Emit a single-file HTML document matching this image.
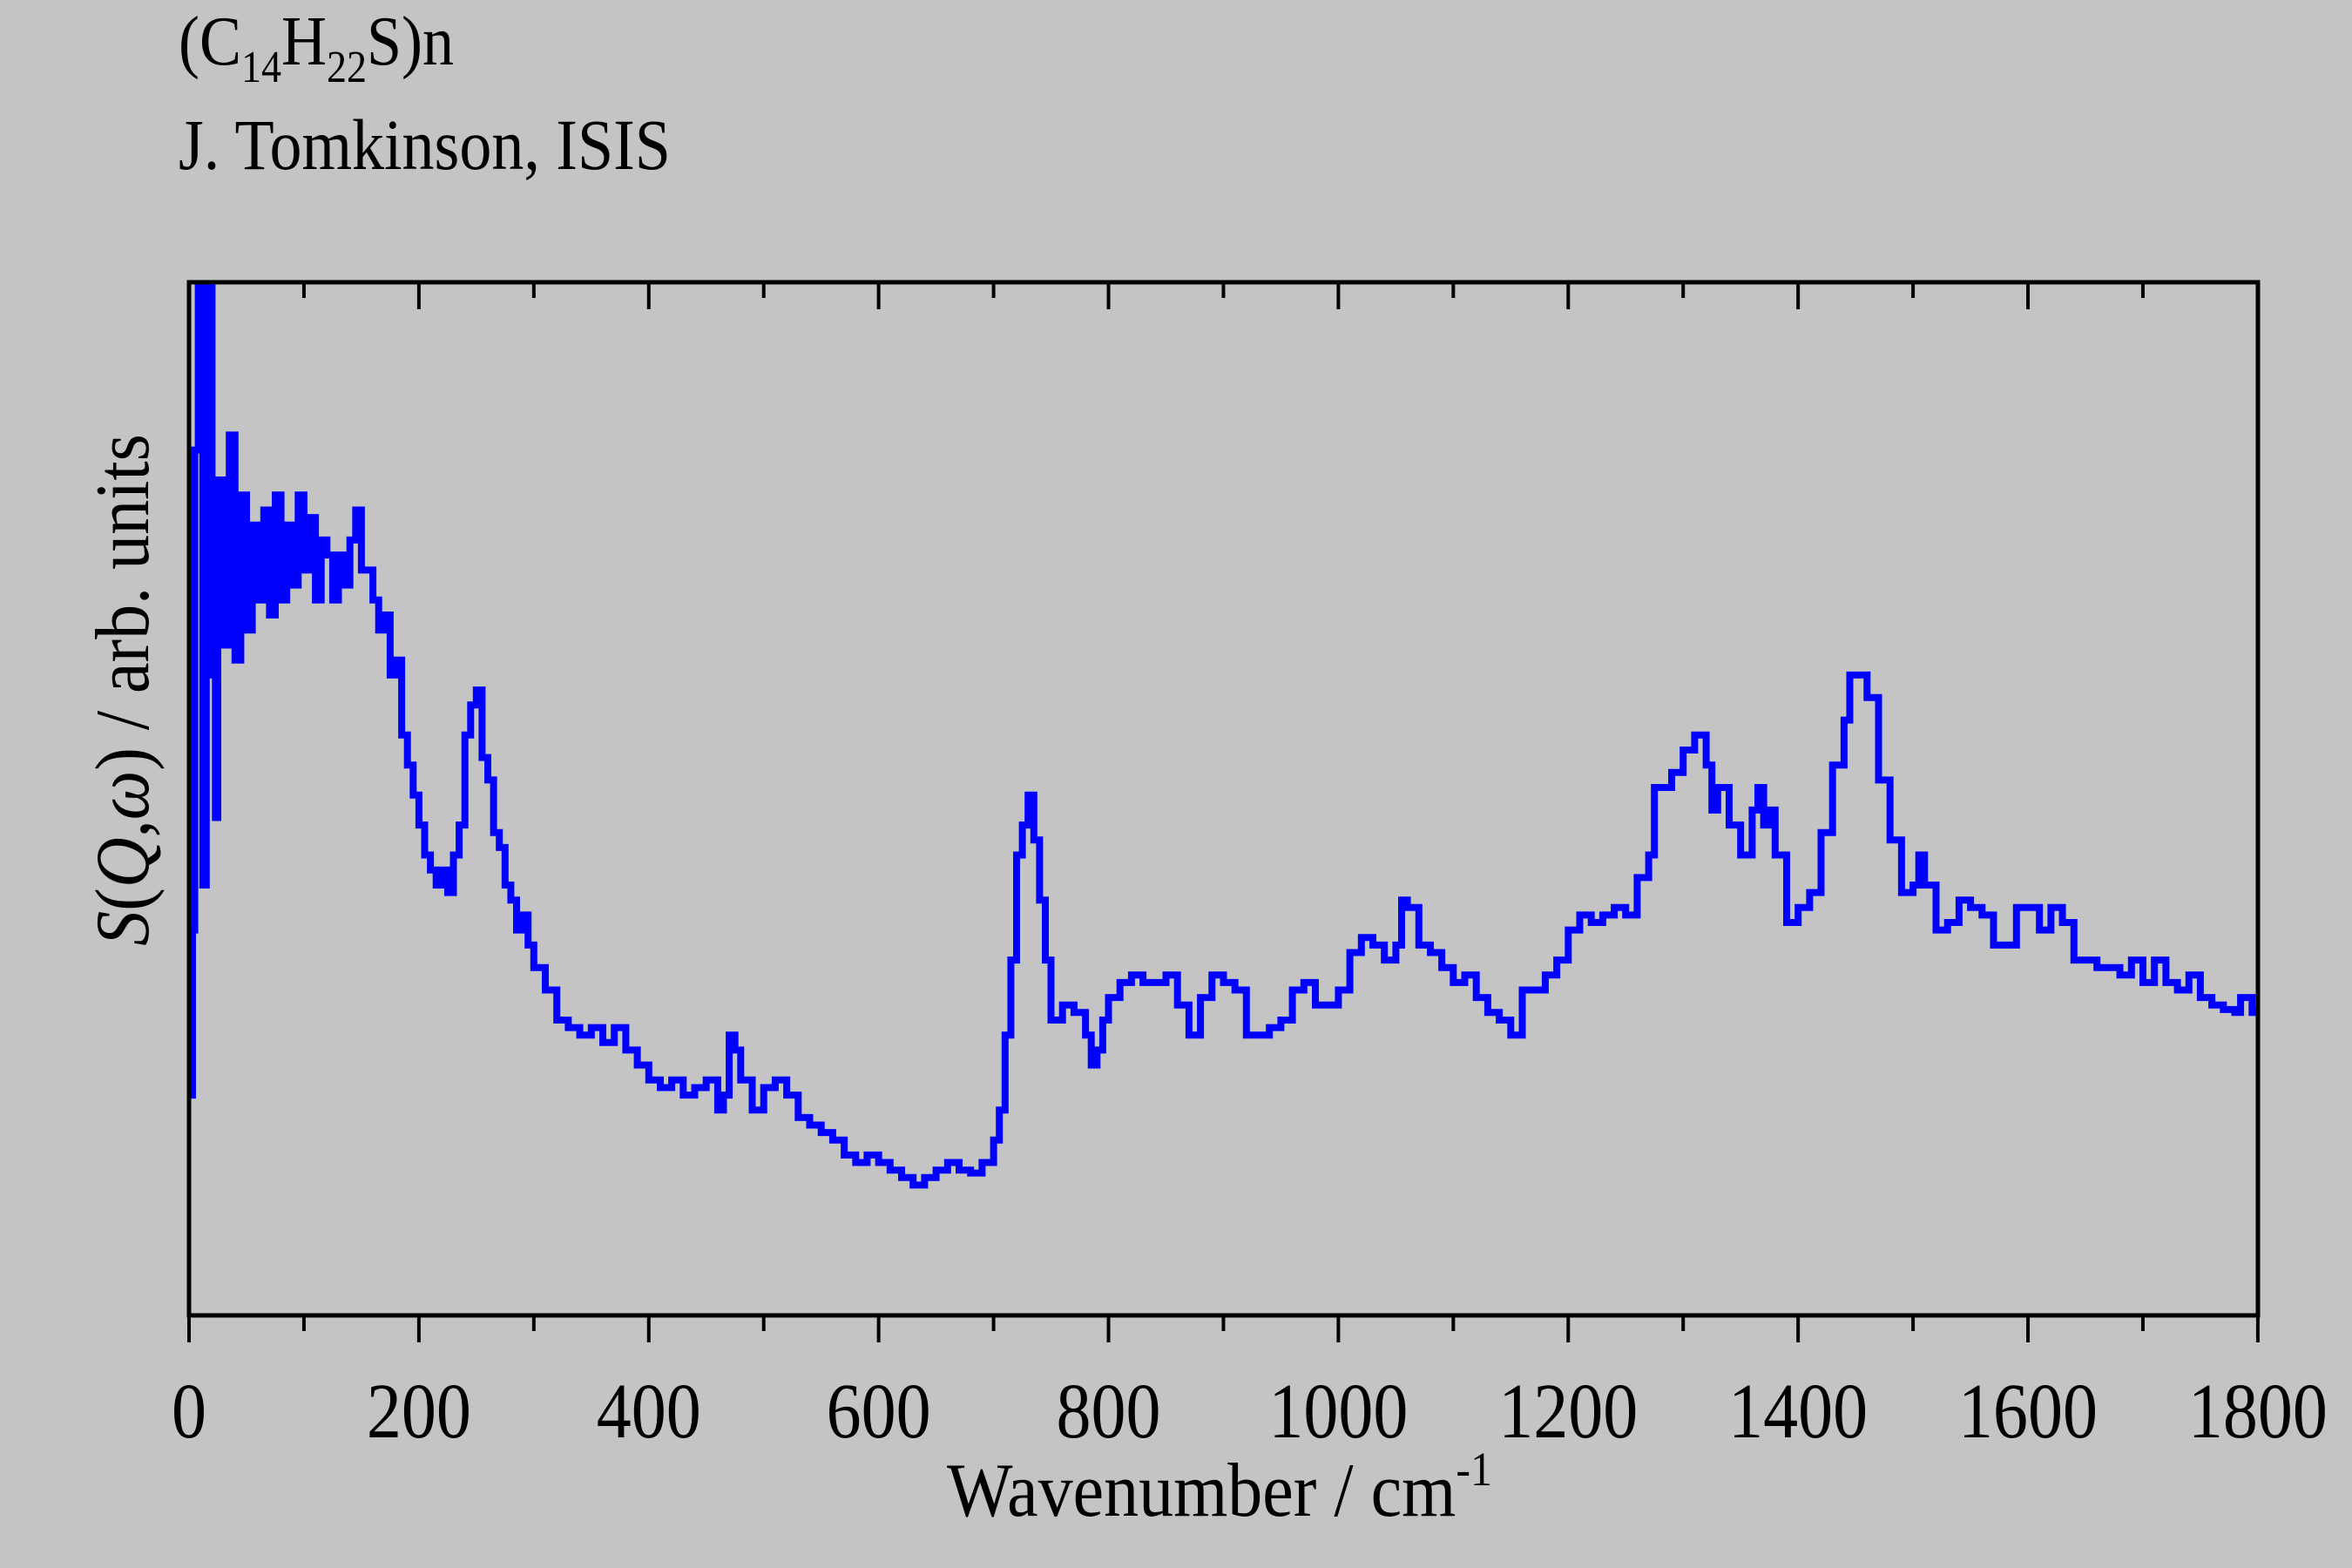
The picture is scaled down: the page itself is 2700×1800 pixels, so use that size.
<!DOCTYPE html>
<html><head><meta charset="utf-8"><style>
html,body{margin:0;padding:0;background:#c4c4c4;}
svg{display:block;}
text{font-family:"Liberation Serif",serif;fill:#000;}
</style></head><body>
<svg id="s" width="2700" height="1800" viewBox="0 0 2700 1800" xmlns="http://www.w3.org/2000/svg">
<rect width="2700" height="1800" fill="#c4c4c4"/>
<g transform="translate(205,74) scale(1,1.12)"><text x="0" y="0" font-size="72">(C<tspan font-size="46" dy="18">14</tspan><tspan dy="-18">H</tspan><tspan font-size="46" dy="18">22</tspan><tspan dy="-18">S)n</tspan></text></g>
<g transform="translate(205,194) scale(1,1.12)"><text x="0" y="0" font-size="74">J. Tomkinson, ISIS</text></g>
<defs><clipPath id="c"><rect x="217" y="324" width="2375" height="1186"/></clipPath></defs>
<path id="d" clip-path="url(#c)" fill="none" stroke="#0000ff" stroke-width="8" stroke-linejoin="miter"/>
<rect x="217" y="324" width="2375" height="1186" fill="none" stroke="#000" stroke-width="5"/>
<g id="t" stroke="#000" stroke-width="4"></g>
<g id="l" font-size="80" text-anchor="middle"></g>
<g transform="translate(1400,1740) scale(1,1.1)"><text x="0" y="0" font-size="80" text-anchor="middle">Wavenumber / cm<tspan font-size="50" dy="-32">-1</tspan></text></g>
<g transform="translate(170,792) rotate(-90) scale(1,1.1)"><text x="0" y="0" font-size="80" text-anchor="middle"><tspan font-style="italic">S</tspan>(<tspan font-style="italic">Q</tspan>,<tspan font-style="italic">ω</tspan>) / arb. units</text></g>
</svg>
<script>
var p=[0,730,3,620,5,300,8,190,12,590,15,190,20,450,23,545,25,320,30,430,35,290,40,440,45,330,50,420,55,350,60,400,65,340,70,410,75,330,80,400,85,350,90,390,95,330,100,380,105,345,110,400,115,360,120,370,125,400,130,370,135,390,140,360,145,340,150,380,155,380,160,400,165,420,170,410,175,450,180,440,185,490,190,510,195,530,200,550,205,570,210,580,215,590,220,580,225,595,230,570,235,550,240,490,245,470,250,460,255,505,260,520,265,555,270,565,275,590,280,600,285,620,290,610,295,630,300,645,310,660,320,680,330,685,340,690,350,685,360,695,370,685,380,700,390,710,400,720,410,725,420,720,430,730,440,725,450,720,460,740,465,730,470,690,475,700,480,720,490,740,500,725,510,720,520,730,530,745,540,750,550,755,560,760,570,770,580,775,590,770,600,775,610,780,620,785,630,790,640,785,650,780,660,775,670,780,680,782,690,775,700,760,705,740,710,690,715,640,720,570,725,550,730,530,735,560,740,600,745,640,750,680,760,670,770,675,780,690,785,710,790,700,795,680,800,665,810,655,820,650,830,655,840,655,850,650,860,670,870,690,880,665,890,650,900,655,910,660,920,690,930,690,940,685,950,680,960,660,970,655,980,670,990,670,1000,660,1010,635,1020,625,1030,630,1040,640,1050,630,1055,600,1060,605,1070,630,1080,635,1090,645,1100,655,1110,650,1120,665,1130,675,1140,680,1150,690,1160,660,1170,660,1180,650,1190,640,1200,620,1210,610,1220,615,1230,610,1240,605,1250,610,1260,585,1270,570,1275,525,1290,515,1300,500,1310,490,1320,510,1325,540,1330,525,1340,550,1350,570,1360,540,1365,525,1370,550,1375,540,1380,570,1390,615,1400,605,1410,595,1420,555,1430,510,1440,480,1445,450,1460,465,1470,520,1480,560,1490,595,1500,590,1505,570,1510,590,1520,620,1530,615,1540,600,1550,605,1560,610,1570,630,1580,630,1590,605,1600,605,1610,620,1620,605,1630,615,1640,640,1650,640,1660,645,1670,645,1680,650,1690,640,1700,655,1710,640,1720,655,1730,660,1740,650,1750,665,1760,670,1770,673,1780,675,1785,665,1790,665,1795,675,1800,675];
function X(w){return 217+w*1.3194;}function Y(y){return y*1.722;}
var d="M"+X(p[0]).toFixed(1)+" "+Y(p[1]).toFixed(1);
for(var i=2;i<p.length;i+=2){d+=" H"+X(p[i]).toFixed(1)+" V"+Y(p[i+1]).toFixed(1);}
document.getElementById('d').setAttribute('d',d);
var t="",l="";
for(var w=0;w<=1800;w+=100){var x=X(w),maj=w%200==0;
t+='<line x1="'+x+'" y1="1510" x2="'+x+'" y2="'+(1510+(maj?31:18))+'"/>';
t+='<line x1="'+x+'" y1="324" x2="'+x+'" y2="'+(324+(maj?31:18))+'"/>';
if(maj)l+='<g transform="translate('+x+',1650) scale(1,1.12)"><text x="0" y="0">'+w+'</text></g>';}
document.getElementById('t').innerHTML=t;document.getElementById('l').innerHTML=l;
</script>
</body></html>
